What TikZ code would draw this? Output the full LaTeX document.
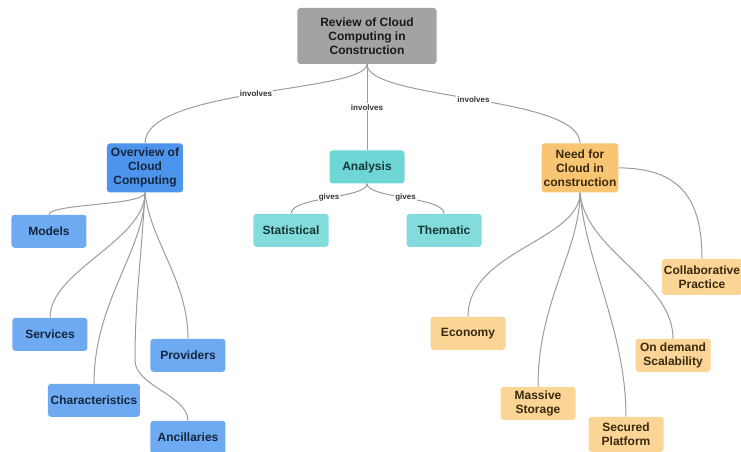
\documentclass[tikz,border=0pt]{standalone}
\usepackage{fontspec}
\setmainfont{Liberation Sans}
\usepackage{xcolor}
\usetikzlibrary{positioning}

\definecolor{rootfill}{HTML}{A3A3A3}
\definecolor{bluemain}{HTML}{4D94EC}
\definecolor{bluelight}{HTML}{6EAAF2}
\definecolor{bluetext}{HTML}{14253D}
\definecolor{tealmain}{HTML}{6FD6D6}
\definecolor{teallight}{HTML}{82DCDC}
\definecolor{tealtext}{HTML}{173636}
\definecolor{orangemain}{HTML}{F8C673}
\definecolor{orangelight}{HTML}{FAD595}
\definecolor{orangetext}{HTML}{3A2910}
\definecolor{linkgray}{HTML}{9C9C9C}

\begin{document}
\begin{tikzpicture}[x=1pt, y=1pt,
    box/.style={rounded corners=3pt, align=center, inner xsep=2pt, inner ysep=1pt,
        minimum width=75pt, minimum height=33pt, font=\fontsize{12}{14}\selectfont\bfseries},
    rootbox/.style={box, fill=rootfill, text=black!90, minimum width=139pt, minimum height=56pt},
    bluebig/.style={box, fill=bluemain, text=bluetext, minimum width=76pt, minimum height=49pt},
    blueleaf/.style={box, fill=bluelight, text=bluetext},
    tealbig/.style={box, fill=tealmain, text=tealtext},
    tealleaf/.style={box, fill=teallight, text=tealtext},
    orangebig/.style={box, fill=orangemain, text=orangetext, minimum width=74pt, minimum height=49pt},
    orangeleaf/.style={box, fill=orangelight, text=orangetext},
    link/.style={draw=linkgray, line width=1pt},
    lbl/.style={font=\fontsize{8}{9}\selectfont\bfseries, text=black!80, fill=white, inner sep=1pt}]

    \useasboundingbox (-367,36) rectangle (374,-416);

    \node [rootbox] (R) {Review of Cloud\\Computing in\\Construction};
    \node [bluebig, below=79pt of R, xshift=-222pt] (O) {Overview of\\Cloud\\Computing};
    \node [tealbig, below=86pt of R] (A) {Analysis};
    \node [orangebig, below=79pt of R, xshift=213pt] (N) {Need for\\Cloud in\\construction};

    \node [blueleaf, below=22pt of O, xshift=-96pt] (Models) {Models};
    \node [blueleaf, below=125pt of O, xshift=-95pt] (Services) {Services};
    \node [blueleaf, below=191pt of O, xshift=-51pt, minimum width=92pt] (Charac) {Characteristics};
    \node [blueleaf, below=146pt of O, xshift=43pt] (Providers) {Providers};
    \node [blueleaf, below=228pt of O, xshift=43pt] (Ancill) {Ancillaries};

    \node [tealleaf, below=30pt of A, xshift=-76pt] (Stat) {Statistical};
    \node [tealleaf, below=30pt of A, xshift=77pt] (Them) {Thematic};

    \node [orangeleaf, below=66pt of N, xshift=122pt, minimum width=78pt, minimum height=36pt] (Collab) {Collaborative\\Practice};
    \node [orangeleaf, below=124pt of N, xshift=-112pt] (Econ) {Economy};
    \node [orangeleaf, below=194pt of N, xshift=-42pt] (Massive) {Massive\\Storage};
    \node [orangeleaf, below=224pt of N, xshift=46pt, minimum height=35pt] (Secured) {Secured\\Platform};
    \node [orangeleaf, below=146pt of N, xshift=93pt] (OnDemand) {On demand\\Scalability};

    \draw [link] (R.south) .. controls +(0,-28) and +(0,55) .. (O.north) node [lbl, pos=0.5] {involves};
    \draw [link] (R.south) -- (A.north) node [lbl, pos=0.5] {involves};
    \draw [link] (R.south) .. controls +(0,-36) and +(0,48) .. (N.north) node [lbl, pos=0.5] {involves};

    \draw [link] (O.south) .. controls +(0,-13) and +(0,11) .. (Models.north);
    \draw [link] (O.south) .. controls +(0,-48) and +(0,47) .. (Services.north);
    \draw [link] (O.south) .. controls +(0,-58) and +(0,83) .. (Charac.north);
    \draw [link] (O.south) .. controls +(5,-48) and +(0,58) .. (Providers.north);
    \draw [link] (O.south) .. controls +(-4,-70) and +(0,60) .. ++(-10,-168)
        .. controls +(0,-25) and +(0,25) .. (Ancill.north);

    \draw [link] (A.south) .. controls +(0,-15) and +(0,17) .. (Stat.north) node [lbl, pos=0.5] {gives};
    \draw [link] (A.south) .. controls +(0,-15) and +(0,17) .. (Them.north) node [lbl, pos=0.5] {gives};

    \draw [link] (N.east) .. controls +(63,0) and +(0,58) .. (Collab.north);
    \draw [link] (N.south) .. controls +(0,-48) and +(0,66) .. (Econ.north);
    \draw [link] (N.south) .. controls +(0,-58) and +(0,86) .. (Massive.north);
    \draw [link] (N.south) .. controls +(5,-68) and +(0,86) .. (Secured.north);
    \draw [link] (N.south) .. controls +(5,-58) and +(0,58) .. (OnDemand.north);
\end{tikzpicture}
\end{document}
